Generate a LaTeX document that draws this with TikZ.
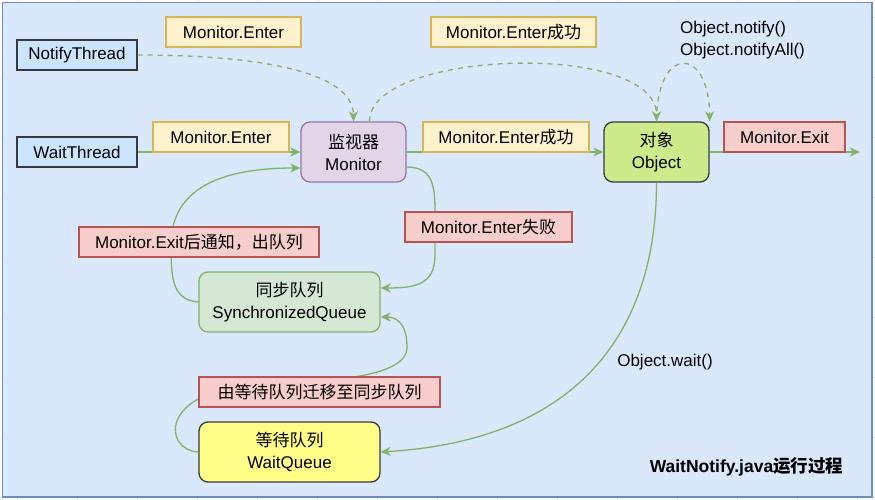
\documentclass[tikz,border=0pt]{standalone}
\usepackage{fontspec}
\setmainfont{Liberation Sans}
\newfontfamily\cjk{Noto Sans CJK SC}
\usetikzlibrary{arrows.meta,calc}
\newcommand{\zh}[1]{{\cjk #1}}
\definecolor{bgfill}{HTML}{DAE8FC}
\definecolor{bgdraw}{HTML}{6C8EBF}
\definecolor{thfill}{HTML}{CCE5FF}
\definecolor{darkd}{HTML}{36393D}
\definecolor{yfill}{HTML}{FFF2CC}
\definecolor{ydraw}{HTML}{D6B656}
\definecolor{pfill}{HTML}{F8CECC}
\definecolor{pdraw}{HTML}{B85450}
\definecolor{monfill}{HTML}{E1D5E7}
\definecolor{mondraw}{HTML}{9673A6}
\definecolor{objfill}{HTML}{CDEB8B}
\definecolor{syncfill}{HTML}{D5E8D4}
\definecolor{syncdraw}{HTML}{82B366}
\definecolor{wqfill}{HTML}{FFFF88}
\definecolor{edgec}{HTML}{82B366}
\definecolor{gridc}{HTML}{E4E4E4}
\begin{document}
\begin{tikzpicture}[x=1pt,y=-1pt,
  txt/.style={font=\fontsize{17}{22}\selectfont, text=black},
  thread/.style={txt, draw=darkd, fill=thfill, line width=1.3pt, minimum width=120, minimum height=30, inner sep=0pt},
  proc/.style={txt, rounded corners=9pt, line width=1.3pt, minimum width=105, minimum height=60, inner sep=0pt, align=center},
  ylab/.style={txt, draw=ydraw, fill=yfill, line width=1.3pt, minimum height=30, inner sep=0pt},
  plab/.style={txt, draw=pdraw, fill=pfill, line width=1.3pt, minimum height=30, inner sep=0pt},
  conn/.style={draw=edgec, line width=1.3pt, -{Stealth[length=10pt,width=9pt,inset=3pt]}},
  dconn/.style={conn, dash pattern=on 5pt off 5pt}
]
\useasboundingbox (0,0) rectangle (875,500);
\fill[white] (0,0) rectangle (875,500);
\foreach \gx in {17,77,...,857} \draw[gridc, line width=0.8pt] (\gx,0) -- (\gx,500);
\foreach \gy in {17,77,...,497} \draw[gridc, line width=0.8pt] (0,\gy) -- (875,\gy);
\draw[fill=bgfill, draw=bgdraw, line width=1.5pt] (2.5,2.5) rectangle (872,497);

% main nodes
\node[thread] (nt) at (77,55) {NotifyThread};
\node[thread] (wt) at (77,152) {WaitThread};
\node[proc, fill=monfill, draw=mondraw] (mon) at (353.5,152) {\zh{监视器}\\Monitor};
\node[proc, fill=objfill, draw=darkd] (obj) at (656.5,152) {\zh{对象}\\Object};
\node[proc, fill=syncfill, draw=syncdraw, minimum width=181] (sync) at (289.5,302) {\zh{同步队列}\\SynchronizedQueue};
\node[proc, fill=wqfill, draw=darkd, minimum width=181] (wq) at (289.5,452) {\zh{等待队列}\\WaitQueue};
\coordinate (exitend) at (860,152);

% connectors
\draw[dconn] (nt.east) .. controls (260,55) and (353,72) .. (mon.north);
\draw[dconn] ($(mon.north)+(16,0)$) .. controls (369,50) and (656.5,40) .. (obj.north);
\draw[dconn] (obj.north) .. controls (656.5,45) and (709,45) .. (obj.north east);
\draw[conn] (wt.east) -- (mon.west);
\draw[conn] (mon.east) -- (obj.west);
\draw[conn] (obj.east) -- (exitend);
\draw[conn] ($(mon.east)+(0,15)$) .. controls (435,167) and (435,190) .. (435,215) -- (435,255) .. controls (435,285) and (415,288) .. ($(sync.east)+(0,-14)$);
\draw[conn] (sync.west) .. controls (173,300) and (171,280) .. (171,245) .. controls (171,195) and (210,168) .. ($(mon.west)+(0,16)$);
\draw[conn] (wq.west) .. controls (163,450) and (160,392) .. (250,386) .. controls (330,381) and (407,378) .. (407,347) .. controls (407,322) and (395,317) .. ($(sync.east)+(0,15)$);
\draw[conn] (obj.south) .. controls (656.5,330) and (580,440) .. (wq.east);

% labels
\node[ylab, minimum width=135] (l1) at (233.5,32) {Monitor.Enter};
\node[ylab, minimum width=136] (l2) at (221,137) {Monitor.Enter};
\node[ylab, minimum width=165] (l3) at (513.5,32) {Monitor.Enter\zh{成功}};
\node[ylab, minimum width=166] (l4) at (506,137) {Monitor.Enter\zh{成功}};
\node[plab, minimum width=121] (l5) at (784.5,137) {Monitor.Exit};
\node[plab, minimum width=167] (l6) at (488.5,227) {Monitor.Enter\zh{失败}};
\node[plab, minimum width=240] (l7) at (199,242) {Monitor.Exit\zh{后通知，出队列}};
\node[plab, minimum width=241] (l8) at (319.5,392) {\zh{由等待队列迁移至同步队列}};
\node[txt, align=left, anchor=west, inner sep=0pt] (l9) at (680,40) {Object.notify()\\Object.notifyAll()};
\node[txt, inner sep=0pt] (l10) at (665,362) {Object.wait()};
\node[txt, inner sep=0pt, font=\fontsize{17.5}{22}\selectfont\bfseries] (title) at (746.5,467) {WaitNotify.java\zh{运行过程}};
\end{tikzpicture}
\end{document}
